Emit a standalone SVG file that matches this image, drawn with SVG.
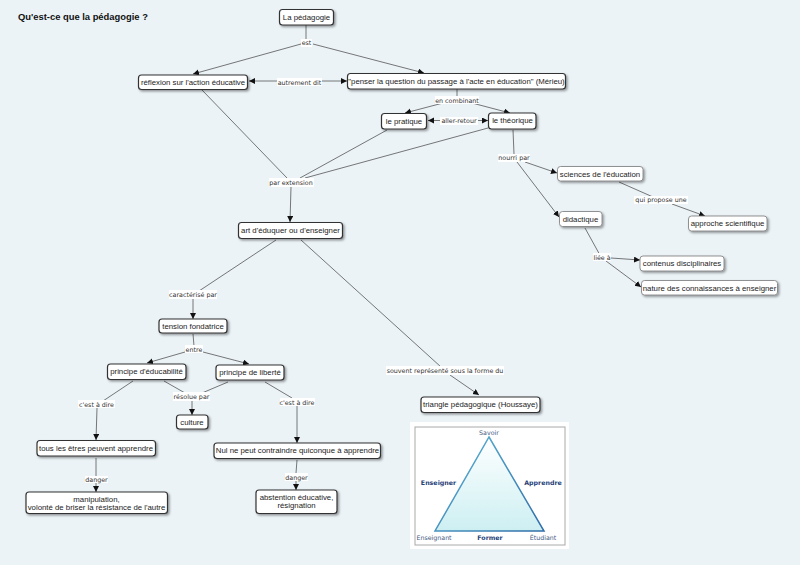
<svg xmlns="http://www.w3.org/2000/svg" width="800" height="565" viewBox="0 0 800 565">
<defs>
<marker id="a" markerUnits="userSpaceOnUse" markerWidth="8" markerHeight="8" refX="6" refY="3" orient="auto-start-reverse"><path d="M0 0L6 3L0 6z" fill="#111"/></marker>
<linearGradient id="tri" x1="0" y1="0" x2="0" y2="1"><stop offset="0" stop-color="#fff"/><stop offset="1" stop-color="#cdeff2"/></linearGradient>
<linearGradient id="edge" x1="0" y1="0" x2="1" y2="1"><stop offset="0" stop-color="#5fb6d6"/><stop offset="1" stop-color="#2f6da8"/></linearGradient>
<filter id="s" x="-10%" y="-20%" width="125%" height="150%"><feDropShadow dx="1.5" dy="1.5" stdDeviation="0.8" flood-color="#000" flood-opacity="0.4"/></filter>
</defs>
<style>
.n rect{fill:#fff;stroke:#333;stroke-width:1.2;filter:url(#s)}
.l rect{fill:#fff;stroke:#777;stroke-width:.8;filter:url(#s)}
text{font-family:"Liberation Sans",Arial,sans-serif;font-size:7.8px;fill:#222;text-anchor:middle}
.c line{stroke:#555;stroke-width:.8;fill:none}
.c .h{marker-end:url(#a)}
.c .b{marker-start:url(#a);marker-end:url(#a)}
.t rect{fill:#fff}
.t text{font-family:"DejaVu Sans",sans-serif;font-size:6.35px;fill:#333}
.p text{font-family:"DejaVu Sans",sans-serif;font-size:6.3px;fill:#44597f}
.p .bd{font-weight:bold;fill:#1f3f78}
</style>
<rect width="800" height="565" fill="#ebf3f7"/>
<text x="18" y="20" style="font-size:9.4px;font-weight:bold;text-anchor:start;fill:#111">Qu'est-ce que la pédagogie ?</text>
<g id="connectors" class="c">
<line x1="306" y1="25" x2="306" y2="41"/><line class="h" x1="301" y1="44" x2="193" y2="74"/><line class="h" x1="313" y1="44" x2="424" y2="73"/>
<line class="b" x1="249" y1="81" x2="347" y2="81"/>
<line x1="457" y1="89" x2="457" y2="97"/><line class="h" x1="443" y1="103" x2="405" y2="113"/><line class="h" x1="472" y1="103" x2="510" y2="113"/>
<line class="b" x1="428" y1="120.500" x2="488" y2="120.500"/>
<line x1="513" y1="130" x2="514" y2="154"/><line class="h" x1="525" y1="162" x2="557" y2="173"/><line class="h" x1="517" y1="162" x2="559" y2="217"/>
<line x1="619" y1="182" x2="653" y2="197"/><line class="h" x1="672" y1="204" x2="705" y2="216"/>
<line x1="585" y1="228" x2="601" y2="257"/><line class="h" x1="611" y1="258" x2="640" y2="260"/><line class="h" x1="606" y1="261" x2="641" y2="287"/>
<line x1="202" y1="90" x2="287" y2="178"/><line x1="387" y1="130" x2="300" y2="178"/><line x1="488" y1="128" x2="305" y2="178"/>
<line class="h" x1="291" y1="187" x2="290" y2="222"/>
<line x1="276" y1="240" x2="199" y2="291"/><line class="h" x1="193" y1="299" x2="193" y2="319"/>
<line x1="301" y1="240" x2="441" y2="367"/><line class="h" x1="450" y1="375" x2="479" y2="395"/>
<line x1="193" y1="334" x2="194" y2="346"/><line class="h" x1="185" y1="352" x2="147" y2="363"/><line class="h" x1="203" y1="352" x2="249" y2="364"/>
<line x1="133" y1="381" x2="103" y2="401"/><line class="h" x1="97" y1="408" x2="96" y2="440"/>
<line x1="164" y1="381" x2="185" y2="393"/><line x1="228" y1="382" x2="202" y2="393"/><line class="h" x1="192" y1="401" x2="192" y2="415"/>
<line x1="265" y1="382" x2="292" y2="398"/><line class="h" x1="297" y1="406" x2="297" y2="443"/>
<line x1="96" y1="458" x2="96" y2="476"/><line class="h" x1="96" y1="483" x2="96" y2="492"/>
<line x1="297" y1="460" x2="296" y2="473"/><line class="h" x1="296" y1="481" x2="296" y2="490"/>
</g>
<g id="labels" class="t">
<g><rect x="301" y="39" width="11" height="8"/><text x="306.500" y="45">est</text></g>
<g><rect x="277" y="78" width="45" height="8"/><text x="299.500" y="84.500">autrement dit</text></g>
<g><rect x="435" y="96" width="44" height="8"/><text x="457" y="102.500">en combinant</text></g>
<g><rect x="440" y="117" width="38" height="8"/><text x="459" y="123">aller-retour</text></g>
<g><rect x="498" y="154" width="32" height="8"/><text x="514" y="160">nourri par</text></g>
<g><rect x="634" y="196" width="54" height="8"/><text x="661" y="202">qui propose une</text></g>
<g><rect x="593" y="253" width="18" height="8"/><text x="602" y="259.500">liée à</text></g>
<g><rect x="269" y="178" width="45" height="9"/><text x="291" y="184.500">par extension</text></g>
<g><rect x="169" y="290" width="48" height="9"/><text x="193" y="296.500">caractérisé par</text></g>
<g><rect x="386" y="366" width="118" height="9"/><text x="445" y="372.500">souvent représenté sous la forme du</text></g>
<g><rect x="185" y="345" width="18" height="8"/><text x="194" y="351.500">entre</text></g>
<g><rect x="78" y="400" width="37" height="8"/><text x="96.500" y="406.500">c'est à dire</text></g>
<g><rect x="173" y="392" width="37" height="9"/><text x="191.500" y="398.500">résolue par</text></g>
<g><rect x="280" y="398" width="35" height="8"/><text x="297" y="404.500">c'est à dire</text></g>
<g><rect x="85" y="476" width="23" height="7"/><text x="96.500" y="481.500">danger</text></g>
<g><rect x="285" y="473" width="23" height="8"/><text x="296.500" y="479.500">danger</text></g>
</g>
<g id="n1" class="n"><rect x="279.500" y="9.500" width="54" height="15.500" rx="3"/><text x="306.500" y="19.500">La pédagogie</text></g>
<g id="n2" class="n"><rect x="138.500" y="75" width="109" height="14.500" rx="3"/><text x="193" y="85">réflexion sur l'action éducative</text></g>
<g id="n3" class="n"><rect x="347.500" y="73.500" width="218" height="15.500" rx="3"/><text x="456.500" y="83.500">"penser la question du passage à l'acte en éducation" (Mérieu)</text></g>
<g id="n4" class="n"><rect x="381.500" y="113.500" width="45" height="15.500" rx="3"/><text x="404" y="123.500">le pratique</text></g>
<g id="n5" class="n"><rect x="488.500" y="113" width="47.500" height="16" rx="3"/><text x="512.500" y="123">le théorique</text></g>
<g id="n6" class="l"><rect x="557.500" y="166.500" width="85.500" height="14.500" rx="3"/><text x="600" y="176.500">sciences de l'éducation</text></g>
<g id="n7" class="l"><rect x="559.500" y="211.500" width="42.500" height="15" rx="3"/><text x="580.500" y="221.500">didactique</text></g>
<g id="n8" class="l"><rect x="688.500" y="216" width="78.500" height="15" rx="3"/><text x="727.500" y="226">approche scientifique</text></g>
<g id="n9" class="l"><rect x="640" y="256" width="84" height="15" rx="3"/><text x="682" y="266">contenus disciplinaires</text></g>
<g id="n10" class="l"><rect x="641.500" y="280.500" width="136" height="14.500" rx="3"/><text x="709.500" y="290.500">nature des connaissances à enseigner</text></g>
<g id="n11" class="n"><rect x="238.500" y="222.500" width="104" height="16" rx="3"/><text x="290.500" y="233">art d'éduquer ou d'enseigner</text></g>
<g id="n12" class="n"><rect x="159" y="319" width="68" height="14" rx="3"/><text x="193" y="329">tension fondatrice</text></g>
<g id="n13" class="n"><rect x="107.500" y="364" width="78.500" height="15.500" rx="3"/><text x="146.500" y="374">principe d'éducabilité</text></g>
<g id="n14" class="n"><rect x="216" y="365" width="68" height="15" rx="3"/><text x="250" y="375">principe de liberté</text></g>
<g id="n15" class="n"><rect x="176.500" y="415" width="31.500" height="14" rx="3"/><text x="192" y="425">culture</text></g>
<g id="n16" class="n"><rect x="37" y="440.500" width="118.500" height="15.500" rx="3"/><text x="96" y="450.500">tous les êtres peuvent apprendre</text></g>
<g id="n17" class="n"><rect x="214" y="443" width="166.500" height="15.500" rx="3"/><text x="297.500" y="453">Nul ne peut contraindre quiconque à apprendre</text></g>
<g id="n18" class="n"><rect x="26" y="492" width="141.500" height="21.500" rx="3"/><text x="96.500" y="501.500">manipulation,</text><text x="96.500" y="510">volonté de briser la résistance de l'autre</text></g>
<g id="n19" class="n"><rect x="256" y="490" width="81" height="23.500" rx="3"/><text x="296.500" y="499.500">abstention éducative,</text><text x="296.500" y="508">résignation</text></g>
<g id="n20" class="n"><rect x="421" y="397" width="119" height="15.500" rx="3"/><text x="480.500" y="407">triangle pédagogique (Houssaye)</text></g>
<g id="picture" class="p">
<rect x="410" y="422" width="159" height="127" fill="#fff"/>
<rect x="415" y="427" width="150" height="118" fill="#fff" stroke="#aaa"/>
<path d="M489 437L544 531H435z" fill="url(#tri)" stroke="url(#edge)" stroke-width="1.500"/>
<text x="489" y="434.500">Savoir</text>
<text x="438.500" y="484.500" class="bd">Enseigner</text>
<text x="543" y="484.500" class="bd">Apprendre</text>
<text x="434" y="539.500">Enseignant</text>
<text x="490" y="539.500" class="bd">Former</text>
<text x="543" y="539.500">Étudiant</text>
</g>
</svg>
